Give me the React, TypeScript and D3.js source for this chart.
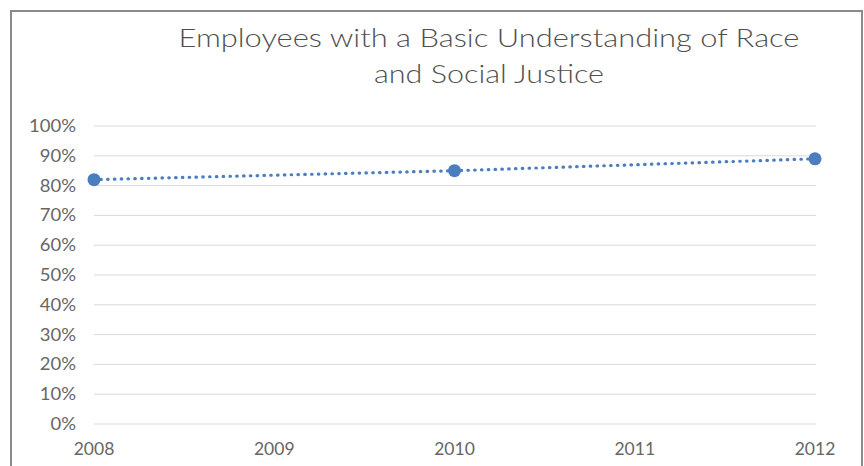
import React from "react";
import * as d3 from "d3";

const years = [2008, 2010, 2012];
const values = [0.82, 0.85, 0.89];
const xTicks = [2008, 2009, 2010, 2011, 2012];
const yTicks = [0, 0.1, 0.2, 0.3, 0.4, 0.5, 0.6, 0.7, 0.8, 0.9, 1.0];
const titleLines = ["Employees with a Basic Understanding of Race", "and Social Justice"];
const titleWidths = [621, 230];

const W = 864;
const H = 466;
const FONT = "Lato, 'Open Sans', sans-serif";

export default function App() {
  const x = d3.scaleLinear().domain([2008, 2012]).range([94, 815]);
  const y = d3.scaleLinear().domain([0, 1]).range([424, 126]);
  const fmt = d3.format(".0%");
  const line = d3
    .line<number>()
    .x((_, i) => x(years[i]))
    .y((d) => y(d));
  const color = "#4a7ebf";

  return (
    <svg
      width={W}
      height={H}
      style={{ position: "absolute", left: 0, top: 0, background: "#fff" }}
    >
      <rect x={0} y={0} width={W} height={H} fill="#fff" />
      <rect x={11} y={11} width={851} height={H + 20} fill="#fff" stroke="#8a8a8a" strokeWidth={2} />
      {titleLines.map((t, i) => (
        <text
          key={i}
          x={489}
          y={47 + i * 36}
          textAnchor="middle"
          fontFamily={FONT}
          fontWeight={300}
          fontSize={25}
          fill="#505050"
          textLength={titleWidths[i]}
          lengthAdjust="spacingAndGlyphs"
        >
          {t}
        </text>
      ))}
      {yTicks.map((t) => (
        <g key={t}>
          <line x1={94} x2={816} y1={y(t)} y2={y(t)} stroke="#d9d9d9" strokeWidth={1} />
          <g transform={`translate(76,${y(t)}) scale(1.12,1)`}>
            <text
              x={0}
              y={0}
              dy="0.36em"
              textAnchor="end"
              fontFamily={FONT}
              fontSize={16.5}
              fill="#666666"
            >
              {fmt(t)}
            </text>
          </g>
        </g>
      ))}
      {xTicks.map((t) => (
        <text
          key={t}
          x={x(t)}
          y={455}
          textAnchor="middle"
          fontFamily={FONT}
          fontSize={17.5}
          fill="#666666"
        >
          {t}
        </text>
      ))}
      <path
        d={line(values) || ""}
        fill="none"
        stroke={color}
        strokeWidth={3.2}
        strokeDasharray="0.5 6.3"
        strokeLinecap="round"
      />
      {values.map((v, i) => (
        <circle key={i} cx={x(years[i])} cy={y(v)} r={6.5} fill={color} />
      ))}
    </svg>
  );
}
